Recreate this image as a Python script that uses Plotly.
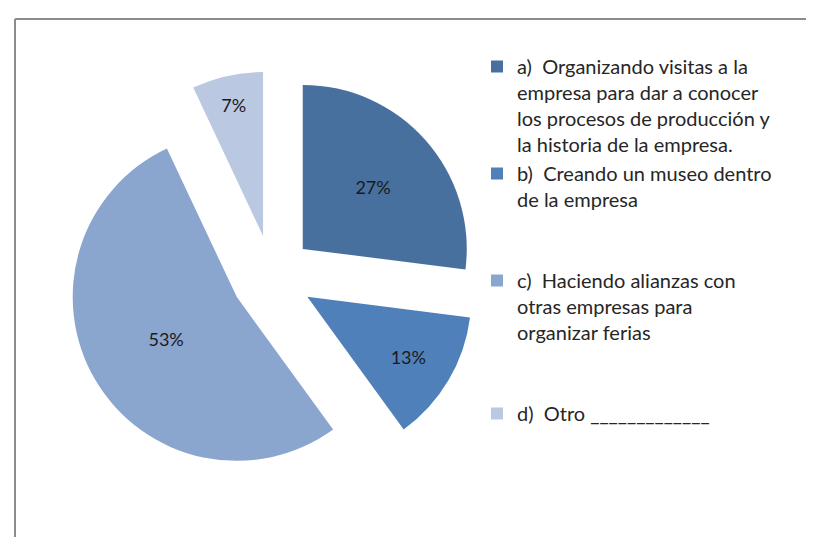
import plotly.graph_objects as go

# Data
labels = [
    "a)  Organizando visitas a la<br>empresa para dar a conocer<br>los procesos de producción y<br>la historia de la empresa.",
    "b)  Creando un museo dentro<br>de la empresa<br> <br> ",
    "c)  Haciendo alianzas con<br>otras empresas para<br>organizar ferias<br> <br> ",
    "d)  Otro _____________",
]
values = [27, 13, 53, 7]
colors = ["#47709E", "#5080BA", "#8AA5CE", "#BBC8E2"]

W, H = 814, 537

fig = go.Figure(go.Pie(
    labels=labels,
    values=values,
    sort=False,
    direction="clockwise",
    rotation=0,
    pull=[0.25] * 4,
    marker=dict(colors=colors, line=dict(width=0)),
    textinfo="percent",
    textposition="inside",
    insidetextorientation="horizontal",
    textfont=dict(family="Lato, Open Sans, sans-serif", size=18, color="#1a1a1a"),
    domain=dict(x=[59 / W, 469 / W], y=[1 - 473 / H, 1 - 63 / H]),
    hoverinfo="label+percent",
))

fig.update_layout(
    width=W, height=H,
    margin=dict(l=0, r=0, t=0, b=0),
    paper_bgcolor="white",
    showlegend=True,
    legend=dict(
        x=469 / W, y=1 - 39 / H, xanchor="left", yanchor="top",
        valign="top",
        font=dict(family="Lato, Open Sans, sans-serif", size=20, color="#262626"),
        itemwidth=30,
        tracegroupgap=0,
    ),
    shapes=[
        dict(type="line", xref="paper", yref="paper",
             x0=7 / W, x1=7 / W, y0=-0.05, y1=1 - 11 / H,
             line=dict(color="#8c8c8c", width=2)),
        dict(type="line", xref="paper", yref="paper",
             x0=7 / W, x1=1.05, y0=1 - 11 / H, y1=1 - 11 / H,
             line=dict(color="#8c8c8c", width=2)),
    ],
)

fig.write_html("out.html")
